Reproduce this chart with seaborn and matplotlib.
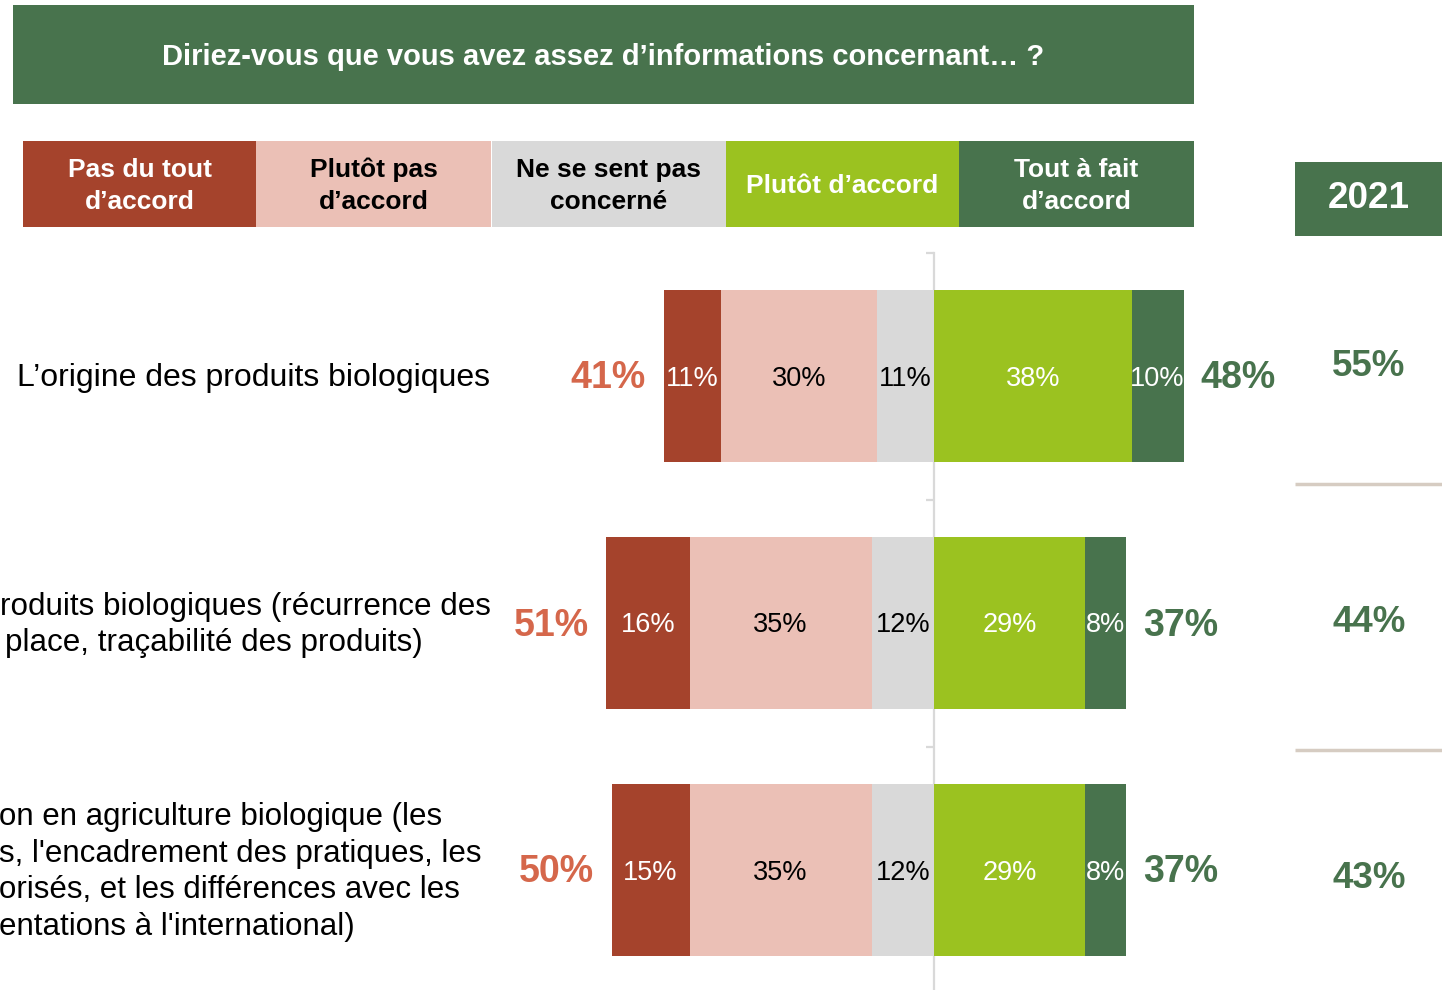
import matplotlib
matplotlib.use("Agg")
import matplotlib.pyplot as plt
import seaborn as sns
import pandas as pd
from matplotlib.patches import Rectangle

sns.set_theme(style="white")
plt.rcParams['font.family'] = ['Liberation Sans', 'DejaVu Sans']

# ---------------- data ----------------
title = "Diriez-vous que vous avez assez d’informations concernant… ?"
legend_labels = ["Pas du tout\nd’accord", "Plutôt pas\nd’accord", "Ne se sent pas\nconcerné",
                 "Plutôt d’accord", "Tout à fait\nd’accord"]
row_labels = ["L’origine des produits biologiques",
              "roduits biologiques (récurrence des\nplace, traçabilité des produits)",
              "on en agriculture biologique (les\ns, l'encadrement des pratiques, les\n"
              "orisés, et les différences avec les\nentations à l'international)"]
rows = ["r1", "r2", "r3"]
pas_du_tout = [11, 16, 15]
plutot_pas = [30, 35, 35]
non_concerne = [11, 12, 12]
plutot_accord = [38, 29, 29]
tout_a_fait = [10, 8, 8]
total_neg = [41, 51, 50]
total_pos = [48, 37, 37]
year_label = "2021"
year_pos = [55, 44, 43]

# ---------------- colours ----------------
C_DARKRED = "#A5432C"
C_PINK = "#EBC0B6"
C_GREY = "#D9D9D9"
C_LIME = "#9BC220"
C_GREEN = "#48734D"
C_NEGTXT = "#D5674B"
C_SEP = "#D6CCC2"

df = pd.DataFrame({
    "row": rows,
    "pd": pas_du_tout, "pp": plutot_pas, "nc": non_concerne,
    "pa": plutot_accord, "tf": tout_a_fait,
})
df["neg3"] = -(df["nc"] + df["pp"] + df["pd"])
df["neg2"] = -(df["nc"] + df["pp"])
df["neg1"] = -df["nc"]
df["pos2"] = df["pa"] + df["tf"]
df["pos1"] = df["pa"]

W, H = 1442, 990
fig = plt.figure(figsize=(W / 100, H / 100), dpi=100)
fig.patch.set_facecolor("white")
ax = fig.add_axes([0, 0, 1, 1])
ax.patch.set_alpha(0)

PX = 5.2      # pixels per percent
X0 = 934      # pixel of zero
ROW0 = 376    # pixel centre of first row
STEP = 247    # pixel step between rows
BAR_W = 172 / STEP
DY = 2.5 / STEP  # small vertical text nudge

for col, c in [("neg3", C_DARKRED), ("neg2", C_PINK), ("neg1", C_GREY),
               ("pos2", C_GREEN), ("pos1", C_LIME)]:
    sns.barplot(data=df, x=col, y="row", order=rows, orient="h", color=c,
                saturation=1, width=BAR_W, errorbar=None, linewidth=0, ax=ax)

ax.set_xlim(-X0 / PX, (W - X0) / PX)
ax.set_ylim((H - ROW0) / STEP, -ROW0 / STEP)
ax.set_xlabel("")
ax.set_ylabel("")
ax.set_xticks([])
ax.set_yticks([-0.5, 0.5, 1.5])
ax.set_yticklabels([])
for s in ["top", "right", "bottom"]:
    ax.spines[s].set_visible(False)
ax.spines["left"].set_position(("data", 0))
ax.spines["left"].set_bounds(-0.5, 2.6)
ax.spines["left"].set_color(C_GREY)
ax.spines["left"].set_linewidth(1.6)
ax.spines["left"].set_zorder(0.5)
ax.tick_params(axis="y", direction="out", length=6, width=1.6, color=C_GREY, left=True)

# segment labels
for i in range(len(rows)):
    nc, pp, pdt, pa, tf = non_concerne[i], plutot_pas[i], pas_du_tout[i], plutot_accord[i], tout_a_fait[i]
    segs = [(-(nc + pp + pdt), -(nc + pp), pdt, "white"),
            (-(nc + pp), -nc, pp, "black"),
            (-nc, 0, nc, "black"),
            (0, pa, pa, "white"),
            (pa, pa + tf, tf, "white")]
    for a, b, v, tc in segs:
        ax.text((a + b) / 2, i + DY, f"{v}%", ha="center", va="center", fontsize=19.5, color=tc)
    ax.text(-(nc + pp + pdt) - 3.4, i + DY, f"{total_neg[i]}%", ha="right", va="center",
            fontsize=27, fontweight="bold", color=C_NEGTXT)
    ax.text(pa + tf + 3.2, i + DY, f"{total_pos[i]}%", ha="left", va="center",
            fontsize=27, fontweight="bold", color=C_GREEN)

# ---------------- overlay (pixel coordinates) ----------------
ov = fig.add_axes([0, 0, 1, 1], zorder=5)
ov.set_xlim(0, W)
ov.set_ylim(H, 0)
ov.axis("off")

# title banner
ov.add_patch(Rectangle((13, 5), 1181, 99, color=C_GREEN, lw=0))
ov.text(603, 57, title, ha="center", va="center", fontsize=21, fontweight="bold", color="white")

# legend boxes
edges = [23, 256, 491, 726, 959, 1194]
box_cols = [C_DARKRED, C_PINK, C_GREY, C_LIME, C_GREEN]
txt_cols = ["white", "black", "black", "white", "white"]
for k in range(5):
    x0 = edges[k] + (1 if k == 2 else 0)
    ov.add_patch(Rectangle((x0, 141), edges[k + 1] - x0, 86, color=box_cols[k], lw=0))
    ov.text((edges[k] + edges[k + 1]) / 2, 186, legend_labels[k], ha="center", va="center",
            fontsize=19, fontweight="bold", color=txt_cols[k], linespacing=1.42)

# 2021 column
ov.add_patch(Rectangle((1295, 162), 160, 74, color=C_GREEN, lw=0))
ov.text(1369, 198, year_label, ha="center", va="center", fontsize=26.5, fontweight="bold", color="white")
year_y = [367, 623, 879]
for i, v in enumerate(year_pos):
    ov.text(1369, year_y[i], f"{v}%", ha="center", va="center", fontsize=26.5,
            fontweight="bold", color=C_GREEN)
for yy in [484, 750]:
    ov.plot([1295, W], [yy, yy], color=C_SEP, lw=2.5, solid_capstyle="butt")

# row labels
for i, lab in enumerate(row_labels):
    yc = ROW0 + STEP * i + 2
    if i == 0:
        ov.text(490, yc, lab, ha="right", va="center", fontsize=23, color="black")
    elif i == 1:
        l1, l2 = lab.split("\n")
        ov.text(0, yc - 18.5, l1, ha="left", va="center", fontsize=22.6, color="black")
        ov.text(5, yc + 18.5, l2, ha="left", va="center", fontsize=22.6, color="black")
    else:
        ov.text(-1, yc, lab, ha="left", va="center", fontsize=22.5, color="black",
                linespacing=1.29, multialignment="left")

fig.savefig("out.png", dpi=100, facecolor="white")
